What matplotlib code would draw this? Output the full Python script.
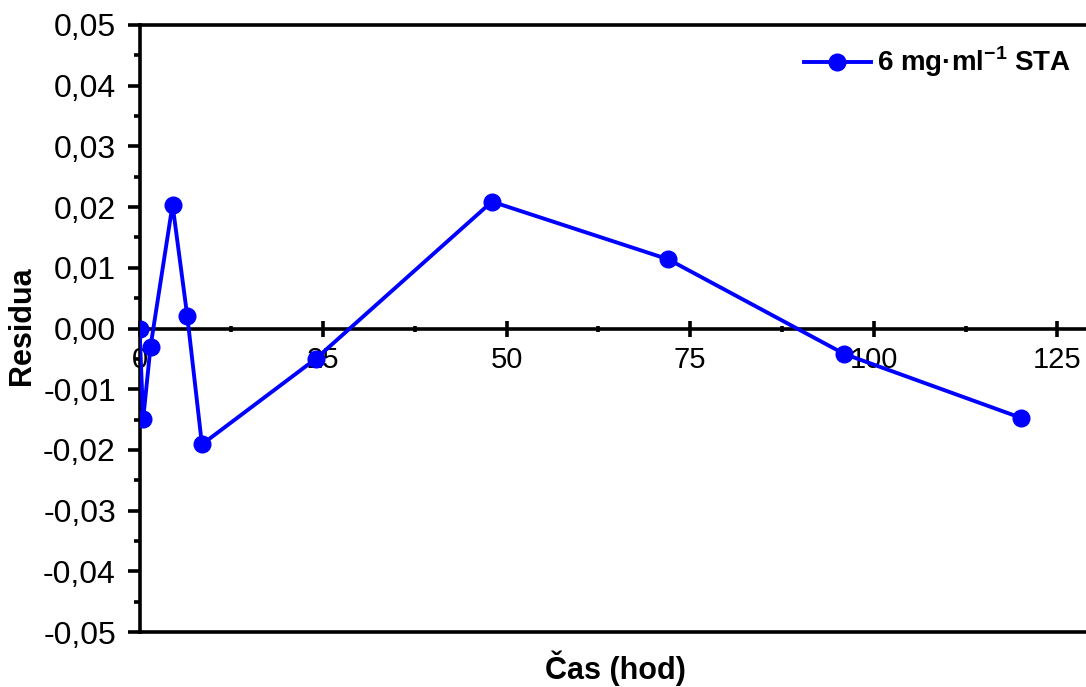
import matplotlib
matplotlib.use("Agg")
import matplotlib.pyplot as plt
from matplotlib.ticker import FixedLocator, MultipleLocator, FixedFormatter

plt.rcParams['font.family'] = ['Liberation Sans', 'DejaVu Sans']
plt.rcParams['mathtext.fontset'] = 'custom'
plt.rcParams['mathtext.rm'] = 'Liberation Sans'
plt.rcParams['mathtext.bf'] = 'Liberation Sans:bold'

# data
time_h = [0, 0.5, 1.5, 4.5, 6.5, 8.5, 24, 48, 72, 96, 120]
residua = [0.0, -0.0149, -0.0030, 0.0204, 0.0021, -0.0191, -0.0050, 0.0209, 0.0114, -0.0042, -0.0147]
series_label = r'6 mg·ml$^{\mathbf{-1}}$ STA'

x_ticks = [0, 25, 50, 75, 100, 125]
x_ticklabels = ['0', '25', '50', '75', '100', '125']
y_ticks = [-0.05, -0.04, -0.03, -0.02, -0.01, 0.0, 0.01, 0.02, 0.03, 0.04, 0.05]
y_ticklabels = ['-0,05', '-0,04', '-0,03', '-0,02', '-0,01', '0,00', '0,01', '0,02', '0,03', '0,04', '0,05']

fig = plt.figure(figsize=(10.86, 6.87), dpi=100)
ax = fig.add_axes([139.5 / 1086, 1 - 632 / 687, 1 - 139.5 / 1086, (632 - 25) / 687])

blue = '#0000ff'
ax.plot(time_h, residua, color=blue, lw=2.8, marker='o', ms=12, label=series_label, zorder=3)

ax.set_xlim(0, 128.9)
ax.set_ylim(-0.05, 0.05)

ax.xaxis.set_major_locator(FixedLocator(x_ticks))
ax.xaxis.set_major_formatter(FixedFormatter(x_ticklabels))
ax.xaxis.set_minor_locator(MultipleLocator(12.5))
ax.yaxis.set_major_locator(FixedLocator(y_ticks))
ax.yaxis.set_major_formatter(FixedFormatter(y_ticklabels))
ax.yaxis.set_minor_locator(MultipleLocator(0.005))

lw = 2.6
for s in ['left', 'top', 'bottom']:
    ax.spines[s].set_linewidth(lw)
    ax.spines[s].set_zorder(1)
ax.spines['right'].set_visible(False)
ax.spines['bottom'].set_position(('data', 0))
# bottom frame line
ax.plot([0, 1], [0, 0], transform=ax.transAxes, color='black', lw=lw, clip_on=False, zorder=1)

ax.tick_params(axis='x', which='major', direction='inout', length=11, width=lw, labelsize=21, pad=7)
ax.tick_params(axis='x', which='minor', direction='inout', length=5, width=lw)
ax.tick_params(axis='y', which='major', direction='out', length=9, width=lw, labelsize=23, pad=8)
ax.tick_params(axis='y', which='minor', direction='out', length=4.5, width=lw)
ax.set_axisbelow(True)

fig.text(615 / 1086, 1 - 668 / 687, 'Čas (hod)', fontsize=22, fontweight='bold', ha='center', va='center')
fig.text(22 / 1086, 1 - 326 / 687, 'Residua', fontsize=22, fontweight='bold', ha='center', va='center', rotation=90)

leg = ax.legend(loc='center right', bbox_to_anchor=(1071 / 1086, 1 - 62 / 687), bbox_transform=fig.transFigure,
                frameon=False, prop={'size': 20, 'weight': 'bold'}, handlelength=2.4, handletextpad=0.22,
                borderaxespad=0, borderpad=0)

fig.savefig('out.png', dpi=100)
